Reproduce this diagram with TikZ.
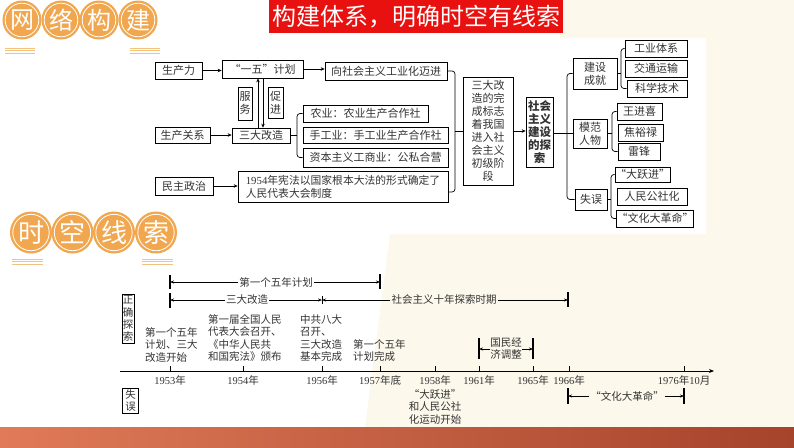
\documentclass[tikz,border=0pt]{standalone}
\usepackage{fontspec}
\setmainfont{Noto Sans CJK SC}
\newfontfamily\latf{Liberation Serif}
\newcommand\dg[1]{{\latf #1}}
\usetikzlibrary{arrows.meta}
\definecolor{cream}{HTML}{FDF8EC}
\definecolor{orangec}{HTML}{F1A74F}
\definecolor{hline}{HTML}{F3C27F}
\definecolor{titlered}{HTML}{E8110F}
\definecolor{txt}{HTML}{333333}
\definecolor{bandl}{HTML}{E07A58}
\definecolor{bandr}{HTML}{A5432B}
\newcommand\bx[7][]{\node[box,#1,minimum width={#5-#3},minimum height={#6-#4}] (#2) at ({(#3+#5)/2},{(#4+#6)/2}) {#7};}
\begin{document}
\begin{tikzpicture}[x=1pt,y=-1pt,
  box/.style={draw=black,line width=0.7pt,text=txt,inner sep=0pt,align=center,font=\fontsize{11}{13}\selectfont},
  hcirc/.style={circle,fill=orangec,text=white,inner sep=0pt,font=\fontsize{24}{24}\selectfont},
  hln/.style={hline,line width=0.8pt},
  br/.style={draw=black,line width=0.7pt,rounded corners=3pt},
  carr/.style={draw=black,line width=0.7pt,-{Stealth[length=4pt,width=3.5pt]}},
  tlt/.style={text=txt,inner sep=1pt,font=\fontsize{10.5}{12.3}\selectfont},
  evt/.style={text=txt,inner sep=0pt,align=left,font=\fontsize{10.5}{12.3}\selectfont},
  tarr/.style={draw=black,line width=0.6pt,-{Stealth[length=4pt,width=3pt]}},
  tck/.style={draw=black,line width=1.1pt}]
\useasboundingbox (0,0) rectangle (794,447);
% background
\fill[cream] (0,0) rectangle (794,447);
\fill[white] (0,0) -- (560,0) -- (560,38) -- (706,38) -- (706,234) -- (390,234) -- (365,427) -- (0,427) -- cycle;
\shade[left color=bandl,right color=bandr] (0,427) rectangle (794,447);
% header 1
\foreach \x/\t [count=\i] in {22/网,61/络,99/构,138/建} {
  \node[hcirc,minimum size=39pt] (ha\i) at (\x,20) {\t};
  \draw[white,line width=0.8pt] (ha\i.center) circle (16.8);
}
\foreach \y in {48.3,50.7,53.1} {\draw[hln] (5,\y) -- (35,\y); \draw[hln] (130,\y) -- (160,\y);}
% title
\node[fill=titlered,text=white,minimum width=294pt,minimum height=33pt,inner sep=0pt,font=\fontsize{24}{24}\selectfont] (title) at (416,16.5) {构建体系，明确时空有线索};
% concept map
\bx{scl}{155}{62}{202}{79}{生产力}
\bx{yiwu}{222}{60}{303}{78}{“一五”计划}
\bx{xiang}{325}{62}{447}{80}{向社会主义工业化迈进}
\bx{fuwu}{238}{87}{252}{120}{服\\务}
\bx{cujin}{268}{87}{283}{118}{促\\进}
\bx{scgx}{155}{127}{210}{143}{生产关系}
\bx{sdgz}{232}{128}{290}{143}{三大改造}
\bx{nong}{303}{105}{428}{122}{农业：农业生产合作社}
\bx{shou}{303}{127}{448}{143}{手工业：手工业生产合作社}
\bx{zi}{303}{148}{448}{167}{资本主义工商业：公私合营}
\bx{mzzz}{155}{177}{213}{195}{民主政治}
\bx[align=left,font=\fontsize{10.8}{13}\selectfont]{xf}{238}{171}{448}{202}{\dg{1954}年宪法以国家根本大法的形式确定了\\人民代表大会制度}
\bx{sdwc}{463}{77}{513}{185}{三大改\\造的完\\成标志\\着我国\\进入社\\会主义\\初级阶\\段}
\bx[font=\fontsize{11.5}{13}\selectfont\bfseries]{tansuo}{526}{97}{553}{167}{社会\\主义\\建设\\的探\\索}
\bx{jscj}{573}{58}{617}{89}{建设\\成就}
\bx{gyt}{625}{40}{687}{57}{工业体系}
\bx{jtys}{625}{60}{687}{77}{交通运输}
\bx{kxjs}{627}{80}{687}{97}{科学技术}
\bx{mfrw}{573}{119}{607}{148}{模范\\人物}
\bx{wjx}{617}{103}{662}{120}{王进喜}
\bx{jyl}{618}{124}{663}{141}{焦裕禄}
\bx{lf}{618}{143}{660}{160}{雷锋}
\bx{sw}{575}{189}{607}{210}{失误}
\bx{dyj}{615}{167}{670}{182}{“大跃进”}
\bx{rmgs}{617}{188}{687}{205}{人民公社化}
\bx{wh}{617}{210}{693}{227}{“文化大革命”}
% arrows
\draw[carr] (scl.east) -- (yiwu.west |- scl.east);
\draw[carr] (yiwu.east) -- (xiang.west |- yiwu.east);
\draw[carr] (scgx.east) -- (sdgz.west |- scgx.east);
\draw[carr] (mzzz.east) -- (xf.west |- mzzz.east);
\draw[carr] (sdgz.north -| 258,0) -- (yiwu.south -| 258,0);
\draw[carr] (yiwu.south -| 263,0) -- (sdgz.north -| 263,0);
\draw[carr] (sdwc.east) -- (tansuo.west |- sdwc.east);
% brackets
\draw[br] (nong.west) -- (297,113.5) -- (297,157.5) -- (zi.west);
\draw[br,rounded corners=0pt] (sdgz.east) -- (297,135.5);
\draw[br] (xiang.east) -- (455,71) -- (455,192) -- (448,192);
\draw[br,rounded corners=0pt] (455,131) -- (sdwc.west |- 455,131);
\draw[br] (jscj.west) -- (567,73.5) -- (567,199.5) -- (sw.west);
\draw[br,rounded corners=0pt] (tansuo.east |- 0,133.5) -- (mfrw.west);
\draw[br] (gyt.west) -- (621,48.5) -- (621,88.5) -- (kxjs.west);
\draw[br,rounded corners=0pt] (jscj.east) -- (621,73.5);
\draw[br] (wjx.west) -- (612,111.5) -- (612,151.5) -- (lf.west);
\draw[br,rounded corners=0pt] (mfrw.east) -- (612,133.5);
\draw[br] (dyj.west) -- (611,174.5) -- (611,218.5) -- (wh.west);
\draw[br,rounded corners=0pt] (sw.east) -- (611,199.5);
% header 2
\foreach \x/\t [count=\i] in {31/时,72.5/空,114/线,156/索} {
  \node[hcirc,minimum size=42pt,font=\fontsize{26}{26}\selectfont] (hb\i) at (\x,232.5) {\t};
  \draw[white,line width=0.8pt] (hb\i.center) circle (18.2);
}
\foreach \y in {259,261.7,264.4} {\draw[hln] (12,\y) -- (43,\y); \draw[hln] (142,\y) -- (173,\y);}
% timeline axis
\coordinate (ax0) at (120,371);
\coordinate (ax1) at (714,371);
\draw[line width=0.9pt,-{Stealth[length=5pt,width=4pt]}] (ax0) -- (ax1);
\foreach \x/\l [count=\i] in {170/\dg{1953}年,243/\dg{1954}年,322/\dg{1956}年,380/\dg{1957}年底,435/\dg{1958}年,479/\dg{1961}年,533/\dg{1965}年,569/\dg{1966}年,684/\dg{1976}年\dg{10}月} {
  \draw[line width=0.8pt] (\x,371) -- (\x,365.5);
  \node[tlt] (yr\i) at (\x,380.5) {\l};
}
% spans
\node[tlt] (p1) at (276,282) {第一个五年计划};
\coordinate (p1l) at (170,282); \coordinate (p1r) at (380,282);
\draw[tarr] (p1.west) -- (p1l); \draw[tarr] (p1.east) -- (p1r);
\draw[tck] (170,275) -- (170,289); \draw[tck] (380,274) -- (380,289);
\node[tlt] (p2) at (247,300) {三大改造};
\coordinate (p2l) at (170,300); \coordinate (p2r) at (322,300);
\draw[tarr] (p2.west) -- (p2l); \draw[tarr] (p2.east) -- (p2r);
\node[tlt] (p3) at (444,300) {社会主义十年探索时期};
\coordinate (p3r) at (568,300);
\draw[tarr] (p3.west) -- (p2r); \draw[tarr] (p3.east) -- (p3r);
\draw[tck] (170,293) -- (170,308); \draw[line width=0.7pt] (322,296) -- (322,304); \draw[tck] (568,292) -- (568,307);
\node[tlt,align=center,inner sep=0pt] (p4) at (506,348.5) {国民经\\济调整};
\coordinate (p4l) at (479,349); \coordinate (p4r) at (533,349);
\draw[tarr] (p4.west |- p4l) -- (p4l); \draw[tarr] (p4.east |- p4r) -- (p4r);
\draw[tck] (479,338) -- (479,359); \draw[tck] (533,338) -- (533,359);
\node[tlt] (p5) at (627,396) {“文化大革命”};
\coordinate (p5l) at (568,396); \coordinate (p5r) at (684,396);
\draw[tarr] (p5.west) -- (p5l); \draw[tarr] (p5.east) -- (p5r);
\draw[tck] (568,388) -- (568,404); \draw[tck] (684,388) -- (684,404);
% events
\node[evt,anchor=north west] (e1) at (145,327.5) {第一个五年\\计划、三大\\改造开始};
\node[evt,anchor=north west] (e2) at (208,314.5) {第一届全国人民\\代表大会召开、\\《中华人民共\\和国宪法》颁布};
\node[evt,anchor=north west] (e3) at (300,314.5) {中共八大\\召开、\\三大改造\\基本完成};
\node[evt,anchor=north west] (e4) at (353,339.5) {第一个五年\\计划完成};
\node[evt,align=center,anchor=north] (e5) at (435,389.5) {“大跃进”\\和人民公社\\化运动开始};
% side labels
\node[box,font=\fontsize{10.5}{12.2}\selectfont,minimum width=12pt,minimum height=49pt] (zq) at (128,318.5) {正\\确\\探\\索};
\node[box,font=\fontsize{10.5}{12.2}\selectfont,minimum width=16pt,minimum height=25pt] (swl) at (130.5,400.5) {失\\误};
\end{tikzpicture}
\end{document}
